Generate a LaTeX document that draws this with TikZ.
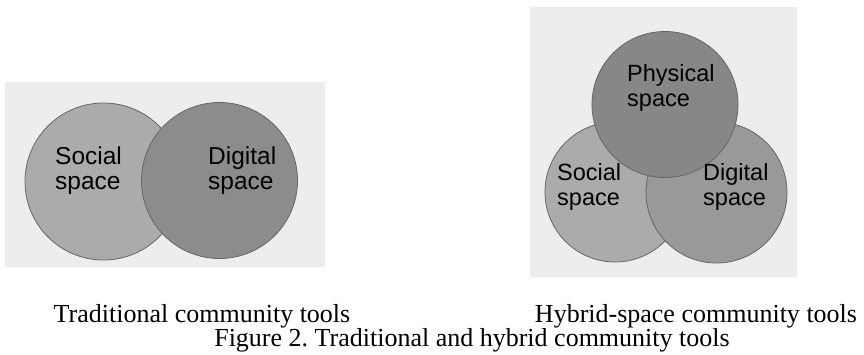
\documentclass[tikz,border=0pt]{standalone}
\usepackage{fontspec}
\setmainfont{Liberation Serif}
\newfontfamily\arialish{Liberation Sans}
\frenchspacing
\begin{document}
\begin{tikzpicture}[x=1pt,y=-1pt,
  bgpanel/.style={fill=black!7, draw=none},
  spacecircle/.style={circle, inner sep=0pt, draw=black!60, line width=0.8pt},
  lbl/.style={anchor=north west, inner sep=0pt, align=left, text=black, font=\arialish\fontsize{24.5}{25}\selectfont},
  lblr/.style={anchor=north west, inner sep=0pt, align=left, text=black, font=\arialish\fontsize{23.5}{25}\selectfont},
  captext/.style={inner sep=0pt, anchor=base, font=\fontsize{26}{28}\selectfont}]
\useasboundingbox (0,0) rectangle (864,354);
% background panels
\path[bgpanel] (5,82) rectangle (325,267);
\path[bgpanel] (530,7) rectangle (797,277);
% left diagram
\node[spacecircle, fill=black!33, minimum size=157pt] (ls) at (103.5,181.5) {};
\node[spacecircle, fill=black!45, minimum size=156pt] (ld) at (219.5,180.5) {};
\node[lbl] (lst) at (55,147) {Social\\space};
\node[lbl] (ldt) at (208,147) {Digital\\space};
% right diagram
\node[spacecircle, fill=black!33, minimum size=140pt] (rs) at (615,192) {};
\node[spacecircle, fill=black!40, minimum size=141pt] (rd) at (716.5,192.5) {};
\node[spacecircle, fill=black!47, minimum size=146pt] (rp) at (665,104.5) {};
\node[lblr] (rpt) at (627,64) {Physical\\space};
\node[lblr] (rst) at (557,163) {Social\\space};
\node[lblr] (rdt) at (703,163) {Digital\\space};
% captions
\node[captext] (c1) at (202,322) {Traditional community tools};
\node[captext] (c2) at (696,322) {Hybrid-space community tools};
\node[captext] (c3) at (472,346) {Figure 2. Traditional and hybrid community tools};
\end{tikzpicture}
\end{document}
